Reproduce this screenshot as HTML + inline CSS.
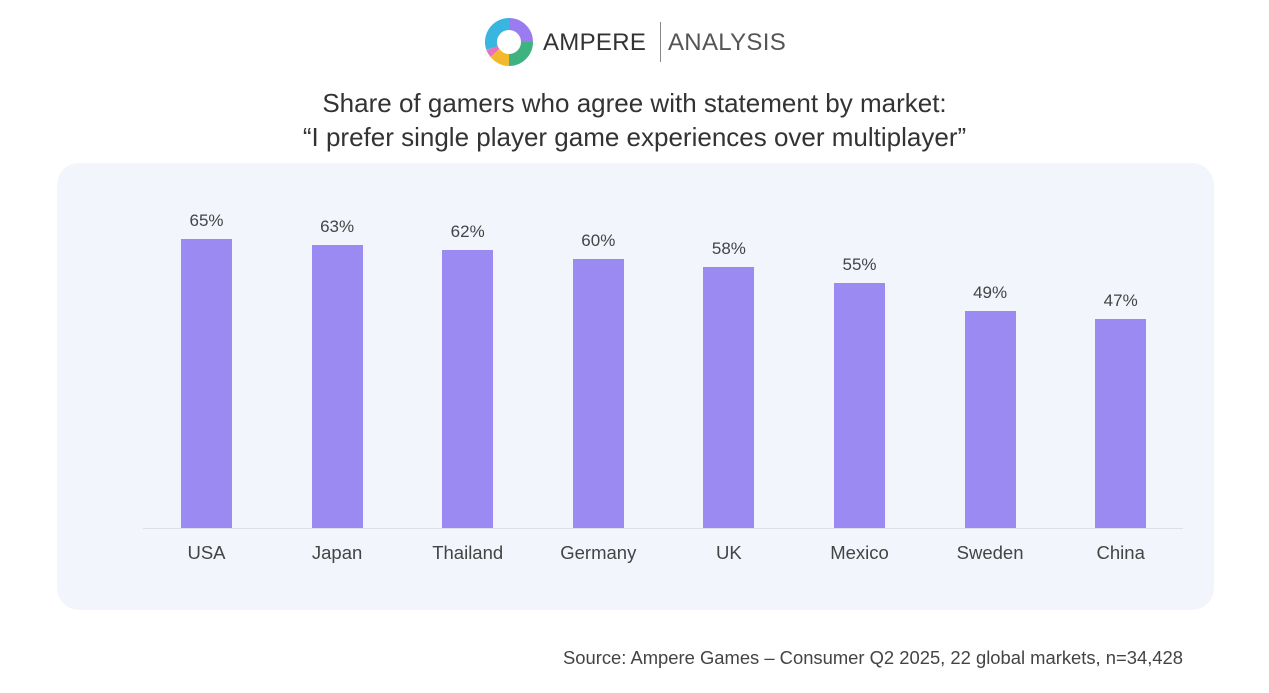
<!DOCTYPE html>
<html><head><style>
body{margin:0;width:1269px;height:693px;background:#fff;font-family:"Liberation Sans",sans-serif;position:relative;overflow:hidden}
.t{position:absolute;left:0;width:1269px;text-align:center;color:#333;font-size:26px;line-height:30px}
.panel{position:absolute;left:57px;top:163px;width:1157px;height:447px;background:#f3f5fd;border-radius:22px}
.bar{position:absolute;width:51px;background:#9b8af2}
.v{position:absolute;width:100px;text-align:center;font-size:17px;color:#444}
.c{position:absolute;width:140px;text-align:center;font-size:18.5px;color:#444;top:542px}
</style></head><body>
<svg style="position:absolute;left:485px;top:18px" width="48" height="48" viewBox="0 0 48 48">
<g fill="none" stroke-width="12">
<path d="M24 6 A18 18 0 0 1 42 24" stroke="#9b7cf0"/>
<path d="M42 24 A18 18 0 0 1 24 42" stroke="#3fb37f"/>
<path d="M24 42 A18 18 0 0 1 10 35" stroke="#f2b92f"/>
<path d="M10 35 A18 18 0 0 1 7 30" stroke="#e873b8"/>
<path d="M7 30 A18 18 0 0 1 24 6" stroke="#38b6e0"/>
</g></svg>
<div style="position:absolute;left:543px;top:29px;font-size:24px;color:#333;letter-spacing:0.3px">AMPERE</div>
<div style="position:absolute;left:660px;top:22px;width:1px;height:40px;background:#888"></div>
<div style="position:absolute;left:668px;top:29px;font-size:24px;color:#555;letter-spacing:0.3px">ANALYSIS</div>
<div class="t" style="top:88px">Share of gamers who agree with statement by market:</div>
<div class="t" style="top:122px">“I prefer single player game experiences over multiplayer”</div>
<div class="panel"></div>
<div style="position:absolute;left:143px;top:528px;width:1040px;height:1px;background:#dde0ea"></div>
<div id="bars"></div>
<script>
var d=[["USA",65,239],["Japan",63,245],["Thailand",62,250],["Germany",60,259],["UK",58,267],["Mexico",55,283],["Sweden",49,311],["China",47,319]];
var h="";
d.forEach(function(e,i){var x=181+i*130.6;var top=e[2];var ht=528-top;
h+='<div class="bar" style="left:'+x+'px;top:'+top+'px;height:'+ht+'px"></div>';
h+='<div class="v" style="left:'+(x-24.5)+'px;top:'+(top-28)+'px">'+e[1]+'%</div>';
h+='<div class="c" style="left:'+(x-44.5)+'px">'+e[0]+'</div>';});
document.getElementById("bars").innerHTML=h;
</script>
<div style="position:absolute;right:86px;top:647px;font-size:18.4px;color:#444">Source: Ampere Games – Consumer Q2 2025, 22 global markets, n=34,428</div>
</body></html>
